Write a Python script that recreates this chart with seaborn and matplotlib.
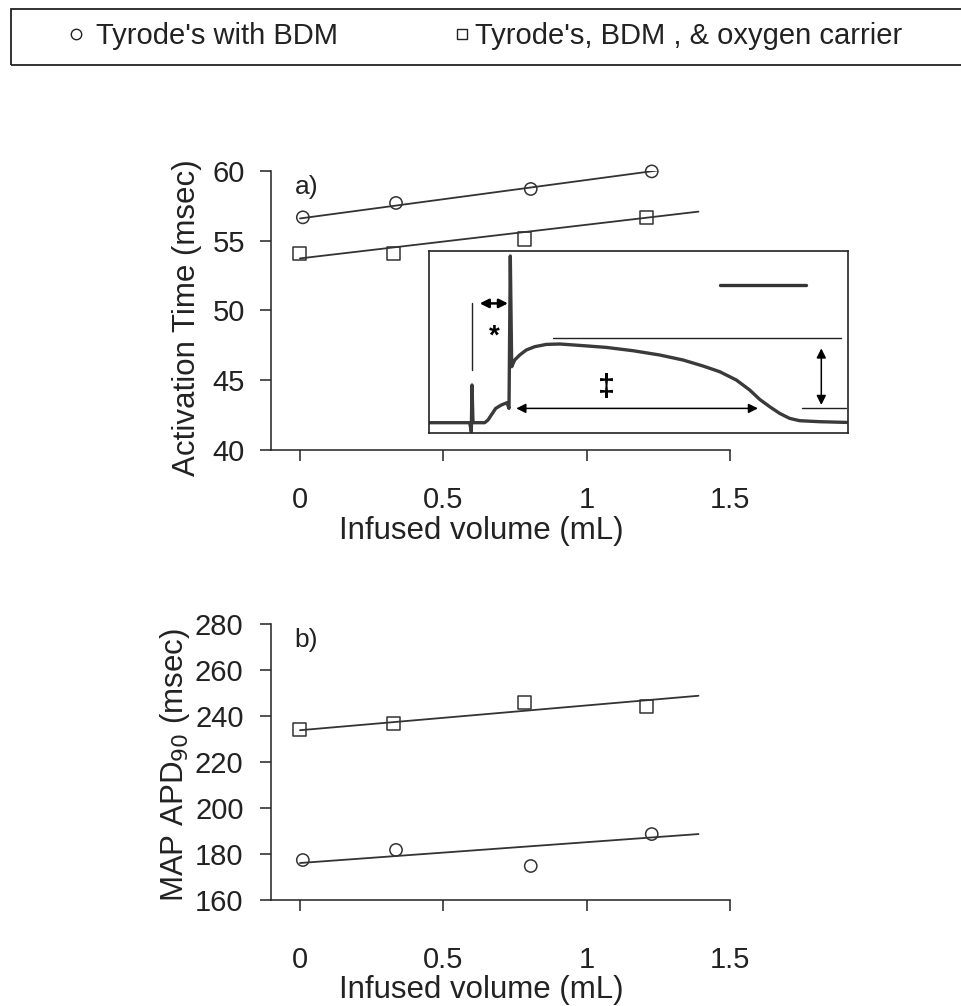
import numpy as np
import pandas as pd
import matplotlib
matplotlib.use("Agg")
import matplotlib.pyplot as plt
import seaborn as sns
from matplotlib.patches import Rectangle
from matplotlib.lines import Line2D

# ---------------- data ----------------
series = ["Tyrode's with BDM", "Tyrode's, BDM , & oxygen carrier"]
x_bdm = [0.01, 0.335, 0.805, 1.227]
x_oxy = [0.0, 0.326, 0.784, 1.21]
act_bdm = [56.66, 57.69, 58.69, 59.95]
act_oxy = [54.08, 54.08, 55.11, 56.66]
apd_bdm = [177.4, 181.8, 174.8, 188.7]
apd_oxy = [234.0, 236.9, 246.0, 244.4]
fit_x = [0.0, 1.39]
act_fit_bdm = [56.58, 60.41]
act_fit_oxy = [53.72, 57.07]
apd_fit_bdm = [176.1, 188.7]
apd_fit_oxy = [233.9, 248.9]
x_ticks = [0, 0.5, 1, 1.5]
x_tick_labels = ["0", "0.5", "1", "1.5"]
act_ticks = [40, 45, 50, 55, 60]
apd_ticks = [160, 180, 200, 220, 240, 260, 280]

# inset MAP trace (illustration), inset-local units
trace_x = [0, 40.7, 42.3, 43, 44, 55.7, 59, 62.3, 66.7, 72.3, 78, 80, 81.3, 82.7,
           85.7, 90.7, 97.3, 105.7, 117.3, 130.7, 150.7, 177.3, 204, 230.7, 254,
           274, 290.7, 307.3, 320.7, 330.7, 340.7, 350.7, 360.7, 370.7, 390.7, 417.3]
trace_y = [172, 172, 181, 134.3, 172, 172, 169.3, 164.3, 157.7, 154.3, 152, 157.7, 5.3, 116,
           109.3, 104.3, 99.3, 96, 93.7, 93.3, 94.7, 96.7, 100, 104.3, 109.3,
           115.3, 121, 129.3, 139.3, 148.7, 156, 162.7, 167.7, 170, 171, 171.7]

# ---------------- style ----------------
sns.set_theme(style="ticks")
plt.rcParams["font.family"] = ["Liberation Sans", "DejaVu Sans"]
INK = "#222222"
LINE = "#333333"
FS = 21
LFS = 22.5

W, H = 962, 1006
fig = plt.figure(figsize=(W / 100, H / 100), dpi=100)
fig.patch.set_facecolor("white")

left = 271.3 / W
width = (730 - 271.3) / W
ax1 = fig.add_axes([left, (H - 450) / H, width, (450 - 170.7) / H])
ax2 = fig.add_axes([left, (H - 900) / H, width, (900 - 624.3) / H])
XLAB_X = (481 - 271.3) / (730 - 271.3)


def draw(ax, yb, yo, fb, fo):
    sns.lineplot(x=fit_x, y=fb, ax=ax, color=LINE, lw=1.3, zorder=2)
    sns.lineplot(x=fit_x, y=fo, ax=ax, color=LINE, lw=1.3, zorder=2)
    ax.scatter(x_bdm, yb, marker="o", s=78, facecolors="none",
               edgecolors=LINE, linewidths=1.1, zorder=3, clip_on=False)
    ax.scatter(x_oxy, yo, marker="s", s=88, facecolors="none",
               edgecolors=LINE, linewidths=1.1, zorder=3, clip_on=False)
    ax.set_xlim(-0.1, 1.5)
    ax.set_xticks(x_ticks)
    ax.set_xticklabels(x_tick_labels)
    ax.set_facecolor("white")
    for s in ["top", "right"]:
        ax.spines[s].set_visible(False)
    for s in ["left", "bottom"]:
        ax.spines[s].set_linewidth(1.1)
        ax.spines[s].set_color(INK)
    ax.tick_params(axis="both", direction="out", length=8, width=1.1,
                   color=INK, labelsize=FS, labelcolor=INK)


draw(ax1, act_bdm, act_oxy, act_fit_bdm, act_fit_oxy)
ax1.set_ylim(40, 60)
ax1.set_yticks(act_ticks)
ax1.tick_params(axis="y", pad=11)
ax1.tick_params(axis="x", pad=18)
ax1.set_ylabel("Activation Time (msec)", fontsize=LFS, color=INK)
ax1.yaxis.set_label_coords(-0.152, 0.475)
ax1.set_xlabel("Infused volume (mL)", fontsize=LFS, color=INK)
ax1.xaxis.set_label_coords(XLAB_X, -0.236)
ax1.text(0.052, 0.94, "a)", transform=ax1.transAxes, fontsize=19,
         color=INK, ha="left", va="center")

draw(ax2, apd_bdm, apd_oxy, apd_fit_bdm, apd_fit_oxy)
ax2.set_ylim(160, 280)
ax2.set_yticks(apd_ticks)
ax2.tick_params(axis="y", pad=12)
ax2.tick_params(axis="x", pad=25)
ax2.set_ylabel("MAP APD$_{90}$ (msec)", fontsize=LFS, color=INK)
ax2.yaxis.set_label_coords(-0.172, 0.49)
ax2.set_xlabel("Infused volume (mL)", fontsize=LFS, color=INK)
ax2.xaxis.set_label_coords(XLAB_X, -0.272)
ax2.text(0.051, 0.943, "b)", transform=ax2.transAxes, fontsize=19,
         color=INK, ha="left", va="center")

# ---------------- inset ----------------
ins = fig.add_axes([429 / W, (H - 432.7) / H, 418.7 / W, 182 / H])
ins.set_facecolor("white")
ins.set_xlim(0, 418.7)
ins.set_ylim(182, 0)
ins.set_xticks([])
ins.set_yticks([])
for s in ins.spines.values():
    s.set_linewidth(1.2)
    s.set_color(INK)
    s.set_visible(True)
sns.lineplot(x=trace_x, y=trace_y, ax=ins, sort=False, estimator=None,
             color="#3a3a3a", lw=2.4)
ins.plot([43.3, 43.3], [52.7, 119.3], color=INK, lw=1.0)
ins.plot([124, 412.3], [87.7, 87.7], color=INK, lw=1.0)
ins.plot([373, 417], [157.7, 157.7], color=INK, lw=1.0)
ins.plot([290.7, 376.7], [34.3, 34.3], color="#333333", lw=2.4)
arrow_kw = dict(arrowstyle="<|-|>", color="black", shrinkA=0, shrinkB=0)
ins.annotate("", xy=(50.7, 52.7), xytext=(79, 52.7),
             arrowprops=dict(**arrow_kw, lw=1.8, mutation_scale=13))
ins.annotate("", xy=(392.3, 97.7), xytext=(392.3, 154.3),
             arrowprops=dict(**arrow_kw, lw=1.1, mutation_scale=14))
ins.annotate("", xy=(87.3, 157.7), xytext=(329, 157.7),
             arrowprops=dict(**arrow_kw, lw=1.1, mutation_scale=14))
ins.text(65.7, 86, "*", fontsize=20, fontweight="bold", ha="center",
         va="center", color="black")
ins.text(177.3, 137.7, "\u2021", fontsize=22, fontweight="bold", ha="center",
         va="center", color="black")

# ---------------- legend ----------------
fig.patches.append(Rectangle((11 / W, 1 - 65 / H), 1.0, 56 / H,
                             transform=fig.transFigure, fill=False,
                             lw=1.3, edgecolor=INK))
h1 = Line2D([], [], marker="o", ls="none", mfc="none", mec=INK, ms=7.5, mew=1.0)
h2 = Line2D([], [], marker="s", ls="none", mfc="none", mec=INK, ms=6.5, mew=1.0)
fig.legend(handles=[h1], labels=[series[0]], loc="center left",
           bbox_to_anchor=(67 / W, 1 - 36 / H), frameon=False, fontsize=FS,
           handlelength=0.6, handletextpad=0.4, borderpad=0, borderaxespad=0,
           labelcolor=INK)
fig.legend(handles=[h2], labels=[series[1]], loc="center left",
           bbox_to_anchor=(453 / W, 1 - 36 / H), frameon=False, fontsize=FS,
           handlelength=0.6, handletextpad=0.15, borderpad=0, borderaxespad=0,
           labelcolor=INK)

fig.savefig("out.png", dpi=100, facecolor="white")
